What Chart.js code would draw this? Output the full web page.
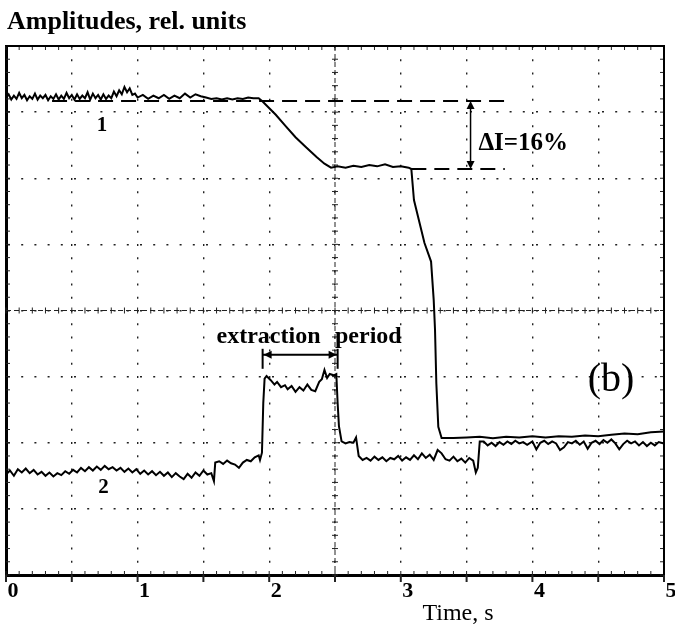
<!DOCTYPE html>
<html>
<head>
<meta charset="utf-8">
<script src="https://cdn.jsdelivr.net/npm/chart.js@4.4.1/dist/chart.umd.min.js"></script>
<style>
  html, body { margin: 0; padding: 0; background: #fff; }
  #wrap { width: 675px; height: 627px; }
</style>
</head>
<body>
<div id="wrap"><canvas id="chart" width="675" height="627"></canvas></div>
<script>
// Oscilloscope trace: amplitudes (rel. units) vs time (s), panel (b)

// ---- axis ranges / ticks ----
const X_TICKS = [0, 1, 2, 3, 4, 5];
const X_MIN = 0, X_MAX = 5, X_STEP = 0.5;
const Y_MIN = 0, Y_MAX = 8, Y_STEP = 1;

// ---- trace 1 (beam intensity) ----
const trace1Time = [
  0.00, 0.02, 0.04, 0.06, 0.08, 0.10, 0.12, 0.14, 0.16, 0.18, 0.20, 0.22, 0.24, 0.26, 0.28,
  0.30, 0.32, 0.34, 0.36, 0.38, 0.40, 0.42, 0.44, 0.46, 0.48, 0.50, 0.52, 0.54, 0.56, 0.58,
  0.60, 0.62, 0.64, 0.66, 0.68, 0.70, 0.72, 0.74, 0.76, 0.78, 0.80, 0.82, 0.84, 0.86, 0.88,
  0.90, 0.92, 0.94, 0.96, 0.98, 1.00, 1.04, 1.08, 1.12, 1.16, 1.20, 1.24, 1.28, 1.32, 1.36,
  1.40, 1.44, 1.48, 1.52, 1.56, 1.60, 1.64, 1.68, 1.72, 1.76, 1.80, 1.84, 1.88, 1.92,
  1.95, 1.98, 2.05, 2.12, 2.20, 2.28, 2.36, 2.42, 2.47,
  2.52, 2.58, 2.64, 2.70, 2.76, 2.82, 2.88, 2.94, 3.00, 3.06,
  3.08, 3.10, 3.18, 3.23, 3.25, 3.26, 3.27, 3.285, 3.31,
  3.40, 3.50, 3.60, 3.70, 3.80, 3.90, 4.00, 4.10, 4.20, 4.30, 4.40, 4.50, 4.60, 4.70, 4.80,
  4.90, 5.00
];
const trace1Amp = [
  7.22, 7.27, 7.19, 7.25, 7.20, 7.29, 7.21, 7.26, 7.18, 7.24, 7.20, 7.28, 7.19, 7.25, 7.21,
  7.26, 7.18, 7.24, 7.20, 7.27, 7.19, 7.25, 7.20, 7.29, 7.21, 7.26, 7.19, 7.27, 7.20, 7.25,
  7.21, 7.30, 7.19, 7.28, 7.21, 7.26, 7.19, 7.27, 7.20, 7.25, 7.21, 7.31, 7.24, 7.33, 7.27,
  7.38, 7.30, 7.36, 7.26, 7.28, 7.22, 7.26, 7.20, 7.25, 7.21, 7.26, 7.20, 7.25, 7.21, 7.28,
  7.22, 7.27, 7.24, 7.22, 7.20, 7.21, 7.19, 7.21, 7.19, 7.21, 7.20, 7.22, 7.21, 7.21,
  7.16, 7.10, 6.96, 6.80, 6.62, 6.47, 6.32, 6.22, 6.16,
  6.18, 6.16, 6.19, 6.17, 6.20, 6.18, 6.21, 6.17, 6.18, 6.16,
  6.14, 5.67, 5.02, 4.74, 4.16, 3.71, 2.90, 2.24, 2.07,
  2.07, 2.08, 2.09, 2.07, 2.09, 2.08, 2.10, 2.08, 2.10, 2.09, 2.11, 2.10, 2.12, 2.14, 2.13,
  2.16, 2.17
];

// ---- trace 2 (extraction signal) ----
const trace2Time = [
  0.00, 0.03, 0.06, 0.09, 0.12, 0.15, 0.18, 0.21, 0.24, 0.27, 0.30, 0.33, 0.36, 0.39, 0.42,
  0.45, 0.48, 0.51, 0.54, 0.57, 0.60, 0.63, 0.66, 0.69, 0.72, 0.75, 0.78, 0.81, 0.84, 0.87,
  0.90, 0.93, 0.96, 0.99, 1.02, 1.05, 1.08, 1.11, 1.14, 1.17, 1.20, 1.23, 1.26, 1.29, 1.32,
  1.35, 1.38, 1.41, 1.44, 1.47, 1.50, 1.53, 1.56, 1.58,
  1.59, 1.62, 1.65, 1.68, 1.71, 1.74, 1.77, 1.80, 1.83, 1.86, 1.89, 1.92, 1.93, 1.945,
  1.955, 1.965, 1.98, 2.01, 2.04, 2.06, 2.09, 2.12, 2.14, 2.17, 2.20, 2.23, 2.26, 2.29, 2.32,
  2.35, 2.38, 2.40, 2.42, 2.44, 2.46, 2.49, 2.51,
  2.52, 2.53, 2.55, 2.58, 2.61, 2.64, 2.66, 2.68, 2.71, 2.74, 2.77, 2.80, 2.83, 2.86, 2.89,
  2.92, 2.95, 2.98, 3.01, 3.04, 3.07, 3.10, 3.13, 3.16, 3.19, 3.22, 3.25, 3.28, 3.31, 3.34,
  3.37, 3.40, 3.43, 3.46, 3.49, 3.52, 3.55, 3.57, 3.585, 3.60,
  3.63, 3.66, 3.69, 3.72, 3.75, 3.78, 3.81, 3.84, 3.87, 3.90, 3.93, 3.96, 4.00, 4.03, 4.06,
  4.09, 4.12, 4.15, 4.18, 4.21, 4.24, 4.27, 4.30, 4.33, 4.36, 4.39, 4.42, 4.45, 4.48, 4.51,
  4.54, 4.57, 4.60, 4.63, 4.66, 4.69, 4.72, 4.75, 4.78, 4.81, 4.84, 4.87, 4.90, 4.93, 4.96,
  5.00
];
const trace2Amp = [
  1.52, 1.58, 1.50, 1.60, 1.55, 1.61, 1.54, 1.59, 1.52, 1.56, 1.50, 1.55, 1.49, 1.54, 1.51,
  1.57, 1.53, 1.59, 1.55, 1.62, 1.57, 1.63, 1.58, 1.64, 1.59, 1.65, 1.60, 1.63, 1.58, 1.62,
  1.56, 1.61, 1.55, 1.60, 1.53, 1.58, 1.52, 1.57, 1.51, 1.56, 1.50, 1.55, 1.48, 1.54, 1.49,
  1.45, 1.53, 1.47, 1.55, 1.50, 1.58, 1.52, 1.54, 1.42,
  1.70, 1.72, 1.68, 1.73, 1.69, 1.67, 1.62, 1.70, 1.74, 1.72, 1.78, 1.81, 1.74, 1.85,
  2.60, 2.97, 3.01, 2.95, 2.88, 2.92, 2.84, 2.87, 2.81, 2.86, 2.77, 2.84, 2.79, 2.88, 2.80,
  2.78, 2.92, 2.96, 3.10, 2.98, 3.04, 3.02, 3.04,
  2.60, 2.25, 2.02, 1.99, 2.01, 2.00, 2.08, 1.80, 1.74, 1.77, 1.73, 1.79, 1.74, 1.78, 1.72,
  1.77, 1.75, 1.80, 1.73, 1.78, 1.74, 1.81, 1.75, 1.84, 1.77, 1.82, 1.74, 1.89, 1.84, 1.75,
  1.73, 1.79, 1.72, 1.76, 1.70, 1.77, 1.73, 1.55, 1.62, 2.02,
  2.02, 1.96, 2.00, 1.95, 2.01, 1.97, 2.02, 1.98, 2.03, 1.99, 2.01, 1.97, 2.02, 1.90, 2.00,
  2.03, 1.98, 2.02, 1.99, 1.89, 1.93, 2.01, 1.99, 2.03, 1.97, 2.02, 1.91, 2.00, 2.03, 1.98,
  2.04, 2.00, 2.05, 1.99, 1.90, 1.98, 2.03, 1.99, 2.02, 1.96, 2.01, 1.95, 2.00, 1.96, 2.01,
  1.99
];

// ---- annotations (data units) ----
const LEVEL_BEFORE = 7.17, LEVEL_AFTER = 6.14;
const DASH_BEFORE = [0.35, 3.81];
const DASH_AFTER = [3.08, 3.79];
const DELTA_ARROW_T = 3.53;
const DELTA_LABEL = { text: 'ΔI=16%', t: 3.59, v: 6.43 };
const EXTRACTION = { start: 1.95, end: 2.52, v: 3.33 };
const EXTRACTION_WORDS = [{ text: 'extraction', t: 1.60, v: 3.51 }, { text: 'period', t: 2.50, v: 3.51 }];
const TRACE_LABELS = [{ text: '1', t: 0.73, v: 6.72 }, { text: '2', t: 0.74, v: 1.24 }];
const PANEL_LABEL = { text: '(b)', t: 4.42, v: 2.78 };

const SERIF = "'Liberation Serif', 'DejaVu Serif', serif";
const INK = '#000';

const toPoints = (ts, vs) => ts.map((t, i) => ({ x: t, y: vs[i] }));

// graticule: small tick marks along edges and centre lines, like the scope screen
const graticule = {
  id: 'graticule',
  beforeDatasetsDraw(chart) {
    const { ctx, chartArea: a, scales: { x, y } } = chart;
    const seg = (x1, y1, x2, y2) => { ctx.beginPath(); ctx.moveTo(x1, y1); ctx.lineTo(x2, y2); ctx.stroke(); };
    ctx.save();
    ctx.strokeStyle = '#222';
    ctx.lineWidth = 1;
    const cx = x.getPixelForValue((X_MIN + X_MAX) / 2);
    const cy = y.getPixelForValue((Y_MIN + Y_MAX) / 2);
    // centre lines
    ctx.setLineDash([5, 3]);
    seg(a.left, cy, a.right, cy);
    seg(cx, a.top, cx, a.bottom);
    ctx.setLineDash([]);
    for (let i = 0; i <= 50; i++) {
      const px = x.getPixelForValue(i / 10);
      seg(px, a.top, px, a.top + 4);
      seg(px, a.bottom, px, a.bottom - 4);
      seg(px, cy - 3, px, cy + 3);
    }
    for (let j = 0; j <= 40; j++) {
      const py = y.getPixelForValue(j / 5);
      seg(a.left, py, a.left + 4, py);
      seg(a.right, py, a.right - 4, py);
      seg(cx - 3, py, cx + 3, py);
    }
    // major ticks below the time axis
    ctx.lineWidth = 2;
    for (let i = 0; i <= 10; i++) {
      const px = x.getPixelForValue(i * X_STEP);
      seg(px, a.bottom, px, a.bottom + 7);
    }
    ctx.restore();
  },
  afterDraw(chart) {
    const { ctx, chartArea: a } = chart;
    ctx.save();
    ctx.strokeStyle = INK;
    ctx.lineWidth = 2;
    ctx.beginPath();
    ctx.moveTo(a.left, a.top);
    ctx.lineTo(a.right, a.top);
    ctx.lineTo(a.right, a.bottom);
    ctx.stroke();
    // figure titles
    ctx.fillStyle = INK;
    ctx.textBaseline = 'alphabetic';
    ctx.font = `bold 26px ${SERIF}`;
    ctx.textAlign = 'left';
    ctx.fillText('Amplitudes, rel. units', 7, 29);
    ctx.font = `24px ${SERIF}`;
    ctx.textAlign = 'center';
    ctx.fillText('Time, s', 458, 620);
    ctx.restore();
  }
};

const annotations = {
  id: 'annotations',
  afterDatasetsDraw(chart) {
    const { ctx, scales: { x, y } } = chart;
    const X = t => x.getPixelForValue(t), Y = v => y.getPixelForValue(v);
    const seg = (x1, y1, x2, y2) => { ctx.beginPath(); ctx.moveTo(x1, y1); ctx.lineTo(x2, y2); ctx.stroke(); };
    const head = (px, py, dx, dy) => {
      // filled triangle pointing along (dx, dy)
      const L = 8, W = 4;
      ctx.beginPath();
      ctx.moveTo(px, py);
      ctx.lineTo(px - dx * L - dy * W, py - dy * L + dx * W);
      ctx.lineTo(px - dx * L + dy * W, py - dy * L - dx * W);
      ctx.closePath();
      ctx.fill();
    };
    ctx.save();
    ctx.strokeStyle = INK;
    ctx.fillStyle = INK;

    // dashed reference levels
    ctx.lineWidth = 2;
    ctx.setLineDash([15, 8]);
    seg(X(DASH_BEFORE[0]), Y(LEVEL_BEFORE), X(DASH_BEFORE[1]), Y(LEVEL_BEFORE));
    seg(X(DASH_AFTER[0]), Y(LEVEL_AFTER), X(DASH_AFTER[1]), Y(LEVEL_AFTER));
    ctx.setLineDash([]);

    // delta arrow
    const ax = X(DELTA_ARROW_T), ay1 = Y(LEVEL_BEFORE), ay2 = Y(LEVEL_AFTER);
    ctx.lineWidth = 1.5;
    seg(ax, ay1 + 6, ax, ay2 - 6);
    head(ax, ay1, 0, -1);
    head(ax, ay2, 0, 1);

    // extraction period bracket
    const ex1 = X(EXTRACTION.start), ex2 = X(EXTRACTION.end), ey = Y(EXTRACTION.v);
    ctx.lineWidth = 2;
    seg(ex1, ey, ex2, ey);
    seg(ex1, ey - 6, ex1, ey + 14);
    seg(ex2, ey - 6, ex2, ey + 14);
    head(ex1 + 1, ey, -1, 0);
    head(ex2 - 1, ey, 1, 0);

    // labels
    ctx.textBaseline = 'alphabetic';
    ctx.textAlign = 'left';
    ctx.font = `bold 25px ${SERIF}`;
    ctx.fillText(DELTA_LABEL.text, X(DELTA_LABEL.t), Y(DELTA_LABEL.v));
    ctx.font = `bold 24px ${SERIF}`;
    EXTRACTION_WORDS.forEach(w => ctx.fillText(w.text, X(w.t), Y(w.v)));
    ctx.font = `40px ${SERIF}`;
    ctx.fillText(PANEL_LABEL.text, X(PANEL_LABEL.t), Y(PANEL_LABEL.v));
    ctx.textAlign = 'center';
    ctx.font = `bold 21px ${SERIF}`;
    TRACE_LABELS.forEach(l => ctx.fillText(l.text, X(l.t), Y(l.v)));
    ctx.restore();
  }
};

new Chart(document.getElementById('chart'), {
  type: 'line',
  data: {
    datasets: [
      { label: '1', data: toPoints(trace1Time, trace1Amp), borderColor: INK, borderWidth: 2, pointRadius: 0, tension: 0 },
      { label: '2', data: toPoints(trace2Time, trace2Amp), borderColor: INK, borderWidth: 2, pointRadius: 0, tension: 0 }
    ]
  },
  options: {
    responsive: false,
    animation: false,
    devicePixelRatio: 1,
    layout: { padding: { left: 6, right: 11, top: 46, bottom: 0 } },
    plugins: { legend: { display: false }, tooltip: { enabled: false }, title: { display: false } },
    scales: {
      x: {
        type: 'linear',
        min: X_MIN, max: X_MAX,
        afterFit: s => { s.height = 52; s.paddingLeft = 0; s.paddingRight = 0; },
        grid: { color: '#222', lineWidth: 1.4, drawTicks: false },
        border: { display: true, color: INK, width: 3, dash: [2, 11.2] },
        ticks: {
          stepSize: X_STEP,
          autoSkip: false,
          maxRotation: 0,
          padding: 3,
          labelOffset: 7,
          color: INK,
          font: { family: SERIF, size: 22, weight: 'bold' },
          callback: v => (X_TICKS.includes(v) ? String(v) : '')
        }
      },
      y: {
        min: Y_MIN, max: Y_MAX,
        afterFit: s => { s.width = 0; },
        grid: { color: '#222', lineWidth: 1.4, drawTicks: false },
        border: { display: true, color: INK, width: 3, dash: [2, 11.2] },
        ticks: { display: false, stepSize: Y_STEP }
      }
    }
  },
  plugins: [graticule, annotations]
});
</script>
</body>
</html>
